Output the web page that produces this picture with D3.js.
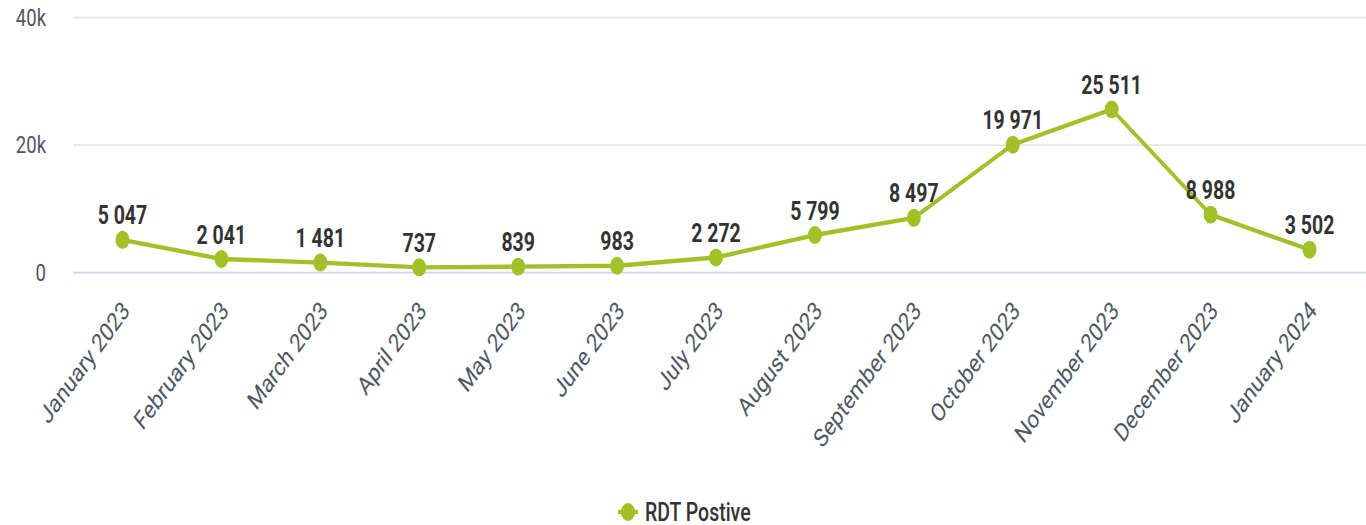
<!DOCTYPE html>
<html>
<head>
<meta charset="utf-8">
<script src="https://cdn.jsdelivr.net/npm/d3@7"></script>
<style>
  body { margin: 0; background: #fff; }
  text { font-family: Roboto, "Noto Sans", sans-serif; }
</style>
</head>
<body>
<svg id="chart" width="1366" height="525"></svg>
<script>
var months = ['January 2023', 'February 2023', 'March 2023', 'April 2023', 'May 2023', 'June 2023',
  'July 2023', 'August 2023', 'September 2023', 'October 2023', 'November 2023', 'December 2023', 'January 2024'];
var rdtPositive = [5047, 2041, 1481, 737, 839, 983, 2272, 5799, 8497, 19971, 25511, 8988, 3502];
var yTicks = [0, 20000, 40000];
var seriesName = 'RDT Postive';

InitChart();

function InitChart() {
  var svg = d3.select('#chart'),
    WIDTH = 1366,
    STRETCH = 1.28, // the picture is taller than it is wide, so stretch everything vertically
    H = 525 / STRETCH,
    COLOR = '#a2c128',
    MARGINS = { left: 73, right: 7, top: 17 / STRETCH, bottom: H - 272 / STRETCH };

  var fmt = d3.formatLocale({ decimal: '.', thousands: ' ', grouping: [3], currency: ['', ''] }).format(',d');

  var g = svg.append('g').attr('transform', 'scale(1,' + STRETCH + ')');

  var x = d3.scalePoint()
    .domain(months)
    .range([MARGINS.left, WIDTH - MARGINS.right])
    .padding(0.5);

  var y = d3.scaleLinear()
    .domain([0, 40000])
    .range([H - MARGINS.bottom, MARGINS.top]);

  var yAxis = d3.axisLeft(y)
    .tickValues(yTicks)
    .tickSize(-(WIDTH - MARGINS.left))
    .tickPadding(27)
    .tickFormat(function(d) { return d === 0 ? '0' : (d / 1000) + 'k'; });

  var ya = g.append('g')
    .attr('transform', 'translate(' + MARGINS.left + ',0)')
    .call(yAxis);
  ya.select('.domain').remove();
  ya.selectAll('line')
    .attr('stroke', function(d) { return d === 0 ? '#ccd6eb' : '#e6e6e6'; })
    .attr('stroke-width', 1.5);
  ya.selectAll('text')
    .attr('fill', '#4f5663')
    .attr('font-size', 18.5)
    .attr('dy', '0.35em');

  var xa = g.append('g')
    .attr('transform', 'translate(0,' + (H - MARGINS.bottom) + ')')
    .call(d3.axisBottom(x).tickSize(0).tickPadding(0));
  xa.select('.domain').remove();
  xa.selectAll('text')
    .attr('fill', '#4f5663')
    .attr('font-size', 20)
    .attr('text-anchor', 'end')
    .attr('dy', 0)
    .attr('transform', 'translate(8,31) rotate(-47)');

  var line = d3.line()
    .x(function(d, i) { return x(months[i]); })
    .y(function(d) { return y(d); });

  g.append('path')
    .datum(rdtPositive)
    .attr('fill', 'none')
    .attr('stroke', COLOR)
    .attr('stroke-width', 3.4)
    .attr('stroke-linejoin', 'round')
    .attr('d', line);

  g.selectAll('circle.pt')
    .data(rdtPositive)
    .enter()
    .append('circle')
    .attr('class', 'pt')
    .attr('cx', function(d, i) { return x(months[i]); })
    .attr('cy', function(d) { return y(d); })
    .attr('r', 7)
    .attr('fill', COLOR);

  g.selectAll('text.lbl')
    .data(rdtPositive)
    .enter()
    .append('text')
    .attr('class', 'lbl')
    .attr('x', function(d, i) { return x(months[i]); })
    .attr('y', function(d) { return y(d) - 12; })
    .attr('text-anchor', 'middle')
    .attr('font-size', 19.5)
    .attr('font-weight', 'bold')
    .attr('fill', '#333')
    .text(function(d) { return fmt(d); });

  var leg = g.append('g').attr('transform', 'translate(628,' + (512 / STRETCH) + ')');
  leg.append('line')
    .attr('x1', -10).attr('x2', 10)
    .attr('stroke', COLOR).attr('stroke-width', 3.4);
  leg.append('circle').attr('r', 7).attr('fill', COLOR);
  leg.append('text')
    .attr('x', 17)
    .attr('dy', '0.35em')
    .attr('font-size', 19.5)
    .attr('font-weight', 500)
    .attr('fill', '#333')
    .text(seriesName);
}
</script>
</body>
</html>
